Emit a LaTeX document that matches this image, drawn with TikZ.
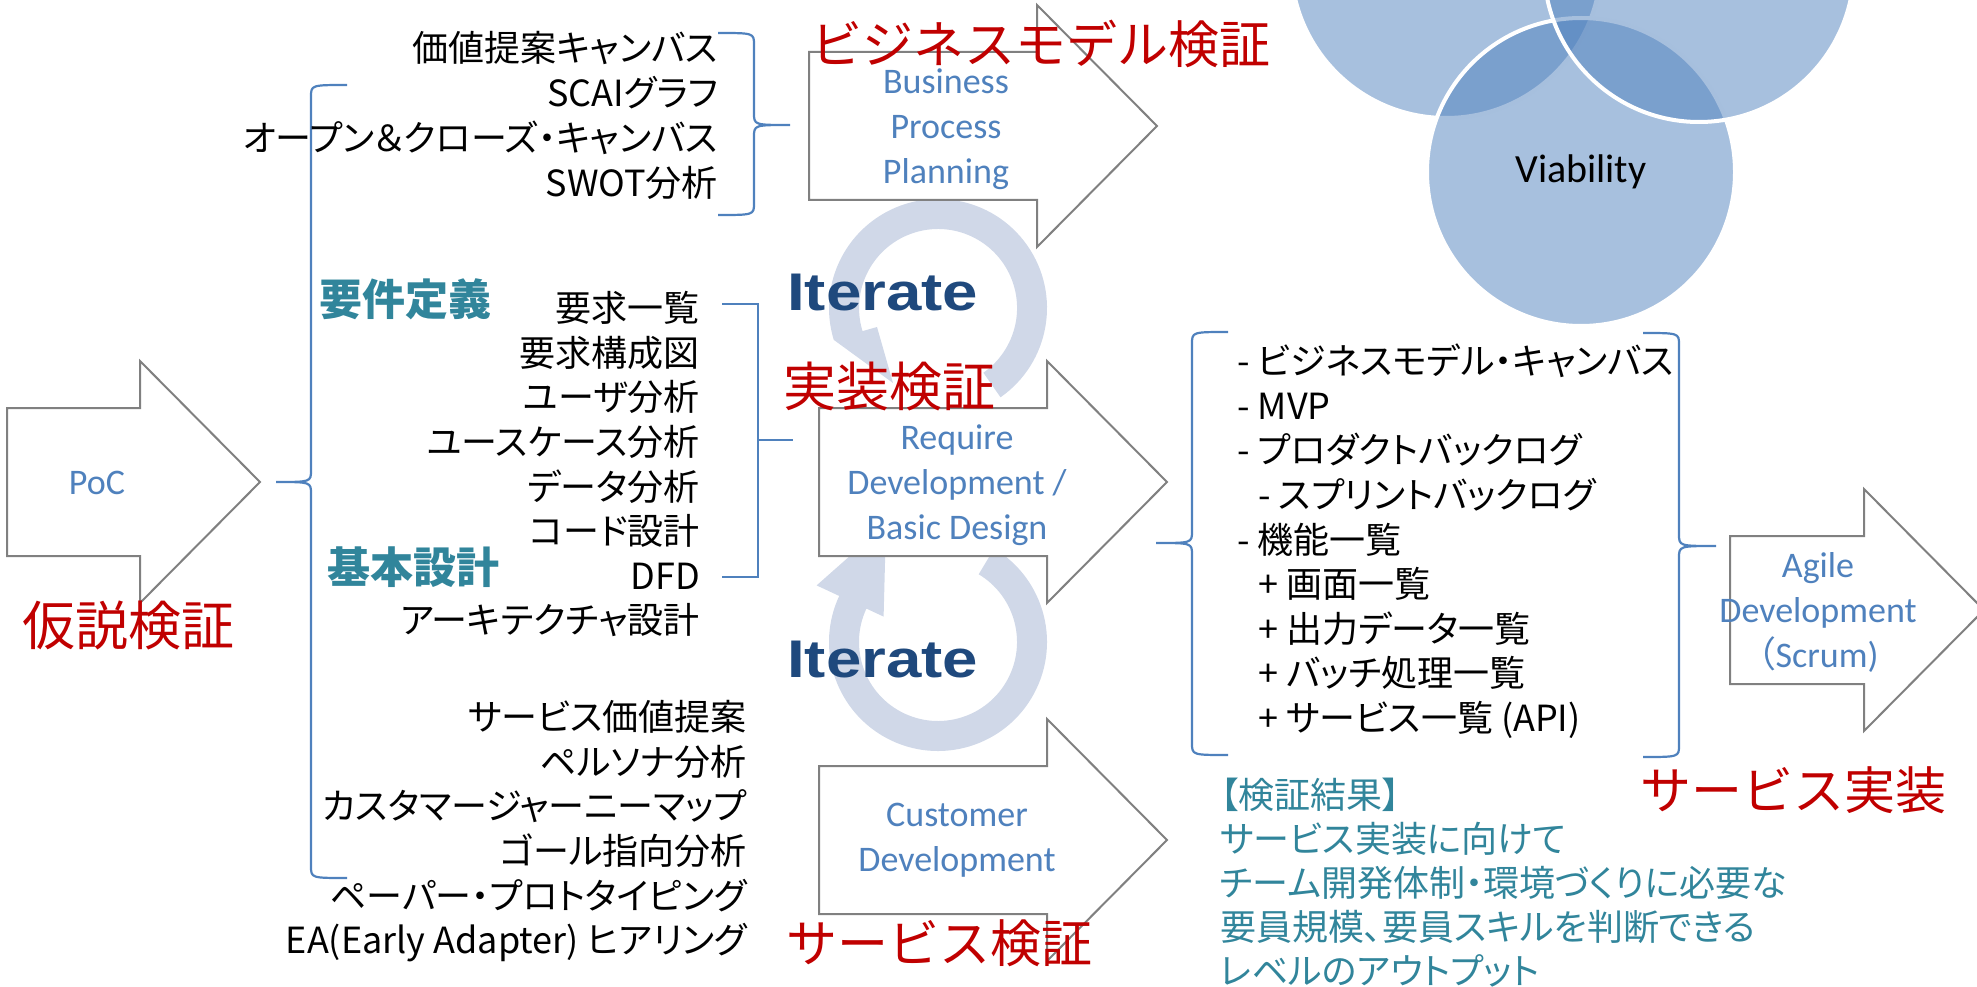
\documentclass[tikz,border=0pt]{standalone}
\usepackage{graphicx}
\usepackage{fontspec}
\setmainfont{Carlito}
\newfontfamily\jpfont[RawFeature=+palt]{Noto Sans CJK JP}
\newfontfamily\jpwide{Noto Sans CJK JP}
\newfontfamily\headfont{Liberation Sans}
\usepackage{tikz}
\usetikzlibrary{positioning}
\usepackage{color}
\definecolor{mariner}{RGB}{79, 129, 189}
\definecolor{guardsman}{RGB}{192, 0, 0}
\definecolor{bluelagoon}{RGB}{49, 133, 155}
\definecolor{midnight}{RGB}{31, 73, 125}
\definecolor{periwinkle}{RGB}{208, 216, 232}
\definecolor{arrowgray}{RGB}{128, 128, 128}

% block arrow: left x, centre y, shaft length
\newcommand{\blockarrow}[3]{%
  \draw[blockarrow] (#1,#2-74) -- (#1+#3,#2-74) -- (#1+#3,#2-121) -- (#1+#3+120,#2)
       -- (#1+#3,#2+121) -- (#1+#3,#2+74) -- (#1,#2+74) -- cycle;}
% curly brace: end x, spine x, tip x, top y, tip y, bottom y
\newcommand{\curlybrace}[6]{%
  \draw[brace] (#1,#4) .. controls (#2,#4) .. (#2,#4+12) -- (#2,#5-12)
       .. controls (#2,#5) .. (#3,#5) .. controls (#2,#5) .. (#2,#5+12)
       -- (#2,#6-12) .. controls (#2,#6) .. (#1,#6);}

\begin{document}
\begin{tikzpicture}[x=1pt, y=-1pt,
    blockarrow/.style={draw=arrowgray, line width=2pt, fill=white},
    brace/.style={draw=mariner, line width=2.2pt},
    ring/.style={fill=periwinkle},
    venn/.style={fill=mariner, fill opacity=0.5, draw=white, draw opacity=1, line width=4pt},
    item/.style={font=\jpfont\fontsize{36}{42}\selectfont, inner sep=0pt, text height=31.7pt, text depth=4.3pt},
    stage/.style={font=\jpwide\fontsize{51}{60}\selectfont, text=guardsman, inner sep=0pt,
                  text height=44.9pt, text depth=6.1pt, anchor=west},
    bigstage/.style={stage, font=\jpwide\fontsize{53}{60}\selectfont, text height=46.6pt, text depth=6.4pt},
    phase/.style={font=\jpwide\bfseries\fontsize{43}{50}\selectfont, text=bluelagoon, inner sep=0pt,
                  text height=37.8pt, text depth=5.2pt, anchor=west},
    arrowtext/.style={font=\fontsize{36}{45}\selectfont, text=mariner, align=center, inner sep=0pt},
    iterate/.style={font=\headfont\bfseries\fontsize{53}{60}\selectfont, text=midnight, inner sep=0pt, anchor=base west}]
    \useasboundingbox (0,0) rectangle (1977,987);

    % Iterate rings
    \fill[ring] (938,308) ++(55:109) arc[start angle=55, end angle=-197, radius=109]
         -- (893,383) -- (877,327) -- (862.5,331.1) arc[start angle=163, end angle=415, radius=79] -- cycle;
    \fill[ring] (938,642) ++(-59:109) arc[start angle=-59, end angle=205, radius=109]
         -- (816.6,585.4) -- (886,524) -- (883.6,616.6) -- (866.4,608.6) arc[start angle=205, end angle=-59, radius=79] -- cycle;

    % Block arrows
    \blockarrow{7}{482}{133}
    \blockarrow{809}{126}{228}
    \blockarrow{819}{482}{228}
    \blockarrow{819}{840}{228}
    \blockarrow{1730}{610}{134}

    % Venn
    \filldraw[venn] (1446,-37) circle[radius=155];
    \filldraw[venn] (1581,172) circle[radius=154];
    \filldraw[venn] (1699,-33) circle[radius=155];
    \node[font=\fontsize{40}{48}\selectfont] (viability) at (1581,172) {Viability};

    % Braces
    \curlybrace{347}{311}{276}{85}{482}{878}
    \curlybrace{718}{754}{790}{33}{125}{215}
    \curlybrace{1228}{1192}{1156}{332}{543}{755}
    \curlybrace{1643}{1679}{1716}{333}{546}{757}
    \draw[brace] (722,304) -- (758,304) -- (758,577) -- (722,577);
    \draw[brace] (758,440) -- (793,440);

    % Arrow labels
    \node[arrowtext] (poc)   at (97,483)   {PoC};
    \node[arrowtext] (bpp)   at (946,129)  {Business\\Process\\Planning};
    \node[arrowtext] (rdbd)  at (957,485)  {Require\\Development /\\Basic Design};
    \node[arrowtext] (cdev)  at (957,840)  {Customer\\Development};
    \node[arrowtext] (agile) at (1818,612) {Agile\\Development\\{\jpfont （}Scrum)};

    % Item lists
    \foreach \txt [count=\i] in {価値提案キャンバス,SCAIグラフ,オープン＆クローズ・キャンバス,SWOT分析}
        \node[item, anchor=east] (biz-\i) at (718,{48+45*(\i-1)}) {\txt};
    \foreach \txt [count=\i] in {要求一覧,要求構成図,ユーザ分析,ユースケース分析,データ分析,コード設計,DFD,アーキテクチャ設計}
        \node[item, anchor=east] (req-\i) at (700,{308+44.6*(\i-1)}) {\txt};
    \foreach \txt [count=\i] in {サービス価値提案,ペルソナ分析,カスタマージャーニーマップ,ゴール指向分析,ペーパー・プロトタイピング,EA(Early Adapter) ヒアリング}
        \node[item, anchor=east] (svc-\i) at (747,{717+44.6*(\i-1)}) {\txt};
    \foreach \x/\txt [count=\i] in {1237/{- ビジネスモデル・キャンバス},1237/{- MVP},1237/{- プロダクトバックログ},
                                    1258/{- スプリントバックログ},1237/{- 機能一覧},1258/{+ 画面一覧},
                                    1258/{+ 出力データ一覧},1258/{+ バッチ処理一覧},1258/{+ サービス一覧 (API)}}
        \node[item, anchor=west] (art-\i) at (\x,{361+44.6*(\i-1)}) {\txt};
    \foreach \txt [count=\i] in {【検証結果】,サービス実装に向けて,チーム開発体制・環境づくりに必要な,要員規模、要員スキルを判断できる,レベルのアウトプット}
        \node[item, anchor=west, text=bluelagoon] (res-\i) at (1220,{795+44*(\i-1)}) {\txt};

    % Phase labels
    \node[phase] (yoken)  at (319,299) {要件定義};
    \node[phase] (kihon)  at (327,567) {基本設計};

    % Iterate
    \node[iterate] (iter-top) at (787,310) {\scalebox{1.2}[1]{Iterate}};
    \node[iterate] (iter-bot) at (787,677) {\scalebox{1.2}[1]{Iterate}};

    % Verification stages
    \node[bigstage] (kasetsu) at (22,625) {仮説検証};
    \node[stage] (bizmodel) at (811,44)  {ビジネスモデル検証};
    \node[bigstage] (jisso) at (783,386) {実装検証};
    \node[stage] (svcken)   at (786,943) {サービス検証};
    \node[stage] (svcjisso) at (1640,790) {サービス実装};
\end{tikzpicture}
\end{document}
